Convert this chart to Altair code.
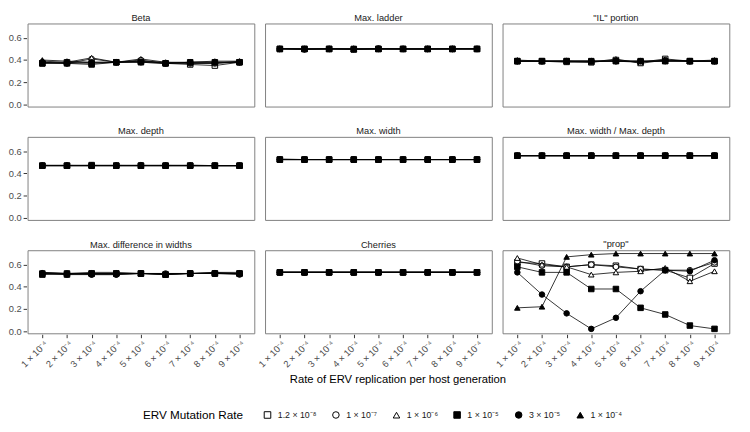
import altair as alt
import pandas as pd

metrics = ["Beta", "Max. ladder", "\"IL\" portion",
           "Max. depth", "Max. width", "Max. width / Max. depth",
           "Max. difference in widths", "Cherries", "\"prop\""]

series_labels = ["1.2 × 10⁻⁸", "1 × 10⁻⁷", "1 × 10⁻⁶",
                 "1 × 10⁻⁵", "3 × 10⁻⁵", "1 × 10⁻⁴"]

x_labels = ["1 × 10⁻⁴", "2 × 10⁻⁴", "3 × 10⁻⁴", "4 × 10⁻⁴", "5 × 10⁻⁴",
            "6 × 10⁻⁴", "7 × 10⁻⁴", "8 × 10⁻⁴", "9 × 10⁻⁴"]

x_title = "Rate of ERV replication per host generation"

beta = [
    [0.37, 0.38, 0.37, 0.38, 0.39, 0.37, 0.36, 0.35, 0.38],
    [0.38, 0.37, 0.41, 0.38, 0.40, 0.37, 0.37, 0.37, 0.38],
    [0.39, 0.38, 0.42, 0.38, 0.41, 0.38, 0.37, 0.37, 0.39],
    [0.37, 0.37, 0.36, 0.38, 0.38, 0.37, 0.38, 0.38, 0.38],
    [0.38, 0.37, 0.38, 0.38, 0.38, 0.37, 0.38, 0.38, 0.38],
    [0.40, 0.39, 0.38, 0.38, 0.39, 0.38, 0.38, 0.39, 0.39],
]
max_ladder = [
    [0.50, 0.50, 0.50, 0.50, 0.50, 0.50, 0.50, 0.50, 0.50],
    [0.50, 0.50, 0.50, 0.50, 0.505, 0.50, 0.50, 0.50, 0.50],
    [0.505, 0.50, 0.505, 0.50, 0.50, 0.50, 0.50, 0.505, 0.50],
    [0.50, 0.50, 0.50, 0.495, 0.50, 0.50, 0.50, 0.50, 0.50],
    [0.50, 0.495, 0.50, 0.50, 0.50, 0.50, 0.50, 0.50, 0.50],
    [0.505, 0.50, 0.50, 0.50, 0.50, 0.50, 0.50, 0.50, 0.505],
]
il_portion = [
    [0.39, 0.39, 0.39, 0.38, 0.40, 0.38, 0.41, 0.39, 0.39],
    [0.39, 0.39, 0.39, 0.39, 0.39, 0.38, 0.40, 0.39, 0.39],
    [0.39, 0.39, 0.38, 0.38, 0.41, 0.37, 0.40, 0.39, 0.40],
    [0.39, 0.39, 0.39, 0.39, 0.39, 0.39, 0.39, 0.39, 0.39],
    [0.39, 0.39, 0.39, 0.39, 0.39, 0.39, 0.39, 0.39, 0.39],
    [0.40, 0.39, 0.39, 0.39, 0.39, 0.39, 0.39, 0.39, 0.39],
]
max_depth = [
    [0.47, 0.47, 0.475, 0.47, 0.47, 0.47, 0.47, 0.47, 0.47],
    [0.47, 0.47, 0.47, 0.47, 0.475, 0.47, 0.47, 0.47, 0.47],
    [0.475, 0.47, 0.47, 0.47, 0.47, 0.475, 0.47, 0.47, 0.47],
    [0.47, 0.47, 0.47, 0.47, 0.47, 0.47, 0.47, 0.47, 0.47],
    [0.47, 0.47, 0.47, 0.47, 0.47, 0.47, 0.47, 0.47, 0.47],
    [0.47, 0.475, 0.47, 0.475, 0.47, 0.47, 0.475, 0.47, 0.47],
]
max_width = [
    [0.525, 0.525, 0.525, 0.525, 0.525, 0.525, 0.525, 0.525, 0.525],
    [0.525, 0.525, 0.525, 0.525, 0.525, 0.525, 0.525, 0.525, 0.525],
    [0.53, 0.525, 0.525, 0.525, 0.525, 0.525, 0.525, 0.525, 0.525],
    [0.525, 0.525, 0.525, 0.525, 0.525, 0.525, 0.525, 0.525, 0.525],
    [0.525, 0.525, 0.525, 0.525, 0.525, 0.525, 0.525, 0.525, 0.525],
    [0.525, 0.525, 0.525, 0.525, 0.525, 0.525, 0.525, 0.525, 0.525],
]
width_depth = [
    [0.56, 0.56, 0.56, 0.56, 0.56, 0.56, 0.56, 0.56, 0.56],
    [0.56, 0.56, 0.56, 0.56, 0.56, 0.56, 0.56, 0.56, 0.56],
    [0.56, 0.56, 0.56, 0.56, 0.56, 0.56, 0.56, 0.56, 0.56],
    [0.56, 0.56, 0.56, 0.56, 0.56, 0.56, 0.56, 0.56, 0.56],
    [0.56, 0.56, 0.56, 0.56, 0.56, 0.56, 0.56, 0.56, 0.56],
    [0.56, 0.56, 0.56, 0.56, 0.56, 0.56, 0.56, 0.56, 0.56],
]
max_diff_widths = [
    [0.52, 0.51, 0.52, 0.52, 0.52, 0.51, 0.52, 0.52, 0.52],
    [0.52, 0.52, 0.51, 0.51, 0.52, 0.52, 0.52, 0.52, 0.52],
    [0.53, 0.52, 0.53, 0.53, 0.52, 0.52, 0.52, 0.53, 0.52],
    [0.51, 0.52, 0.52, 0.52, 0.52, 0.51, 0.52, 0.52, 0.52],
    [0.52, 0.51, 0.51, 0.51, 0.52, 0.51, 0.52, 0.52, 0.51],
    [0.53, 0.52, 0.52, 0.52, 0.52, 0.52, 0.52, 0.53, 0.53],
]
cherries = [
    [0.53, 0.53, 0.53, 0.53, 0.53, 0.53, 0.53, 0.53, 0.53],
    [0.53, 0.53, 0.53, 0.53, 0.53, 0.53, 0.53, 0.53, 0.53],
    [0.535, 0.535, 0.535, 0.535, 0.535, 0.535, 0.535, 0.535, 0.535],
    [0.53, 0.53, 0.53, 0.53, 0.53, 0.53, 0.53, 0.53, 0.53],
    [0.53, 0.53, 0.53, 0.53, 0.53, 0.53, 0.53, 0.53, 0.53],
    [0.53, 0.53, 0.53, 0.53, 0.53, 0.53, 0.53, 0.53, 0.53],
]
prop = [
    [0.62, 0.61, 0.58, 0.60, 0.59, 0.56, 0.55, 0.48, 0.61],
    [0.63, 0.59, 0.58, 0.60, 0.58, 0.56, 0.55, 0.55, 0.62],
    [0.66, 0.60, 0.58, 0.51, 0.53, 0.54, 0.57, 0.45, 0.54],
    [0.58, 0.53, 0.53, 0.38, 0.38, 0.21, 0.15, 0.05, 0.02],
    [0.53, 0.33, 0.16, 0.02, 0.12, 0.36, 0.55, 0.54, 0.64],
    [0.21, 0.22, 0.67, 0.69, 0.70, 0.70, 0.70, 0.70, 0.70],
]

tables = [beta, max_ladder, il_portion, max_depth, max_width,
          width_depth, max_diff_widths, cherries, prop]

rows = []
for m, tab in zip(metrics, tables):
    for s, vals in zip(series_labels, tab):
        for xl, v in zip(x_labels, vals):
            rows.append({"metric": m, "series": s, "rate": xl, "value": v})
df = pd.DataFrame(rows)

FONT = "Liberation Sans"

x_enc = alt.X("rate:O", sort=x_labels,
              scale=alt.Scale(type="point", padding=0.6),
              axis=alt.Axis(title=None,
                            labelAngle=-45, labelAlign="right", labelBaseline="top",
                            labelFontSize=9.5, labelPadding=1, domain=False))
y_enc = alt.Y("value:Q",
              scale=alt.Scale(domain=[-0.02, 0.73], nice=False, zero=False),
              axis=alt.Axis(title=None, values=[0, 0.2, 0.4, 0.6], format=".1f",
                            labelFontSize=9.5, domain=False, grid=False))

shape_scale = alt.Scale(domain=series_labels,
                        range=["square", "circle", "triangle-up",
                               "square", "circle", "triangle-up"])
fill_scale = alt.Scale(domain=series_labels,
                       range=["white", "white", "white", "black", "black", "black"])
stroke_scale = alt.Scale(domain=series_labels, range=["black"] * 6)

legend = alt.Legend(title="ERV Mutation Rate", orient="none",
                    direction="horizontal", titleOrient="left",
                    legendX=118, legendY=396, columns=6,
                    titleFontSize=12, titleFontWeight="normal",
                    titleColor="#000000", labelFontSize=9, labelColor="#1a1a1a",
                    symbolSize=45, symbolStrokeWidth=1,
                    symbolStrokeColor="black", labelOffset=6,
                    columnPadding=14, titlePadding=20)

lines = alt.Chart().mark_line(color="black", strokeWidth=0.8).encode(
    x=x_enc, y=y_enc, detail="series:N")

points = alt.Chart().mark_point(filled=True, strokeWidth=1,
                                size=32, opacity=1).encode(
    x=x_enc, y=y_enc,
    shape=alt.Shape("series:N", scale=shape_scale, sort=series_labels, legend=legend),
    fill=alt.Fill("series:N", scale=fill_scale, sort=series_labels, legend=legend),
    stroke=alt.Stroke("series:N", scale=stroke_scale, sort=series_labels, legend=legend),
)

panels = alt.layer(lines, points, data=df).properties(
    width=232, height=85
).facet(
    facet=alt.Facet("metric:N", sort=metrics, title=None,
                    header=alt.Header(labelFontSize=9.5, labelColor="#1a1a1a",
                                      labelPadding=1, labelFont=FONT)),
    columns=3,
    spacing={"row": 17, "column": 9},
)

title_df = pd.DataFrame({"t": [x_title]})
title_chart = alt.Chart(title_df).mark_text(
    fontSize=11.5, font=FONT, color="black", baseline="top", align="center"
).encode(
    text="t:N", x=alt.value(379), y=alt.value(0)
).properties(width=730, height=16, view=alt.ViewBackground(stroke="transparent"))

chart = alt.vconcat(panels, title_chart, spacing=4).configure(
    font=FONT,
    padding=0,
).configure_view(
    stroke="#7f7f7f", strokeWidth=1
).configure_axis(
    tickColor="#333333", tickSize=3.5, labelColor="#4d4d4d", labelFont=FONT,
    titleFont=FONT
).configure_legend(
    labelFont=FONT, titleFont=FONT, symbolStrokeColor="black", symbolStrokeWidth=1
)

chart.save("out.html", embed_options={"renderer": "svg", "actions": False})
